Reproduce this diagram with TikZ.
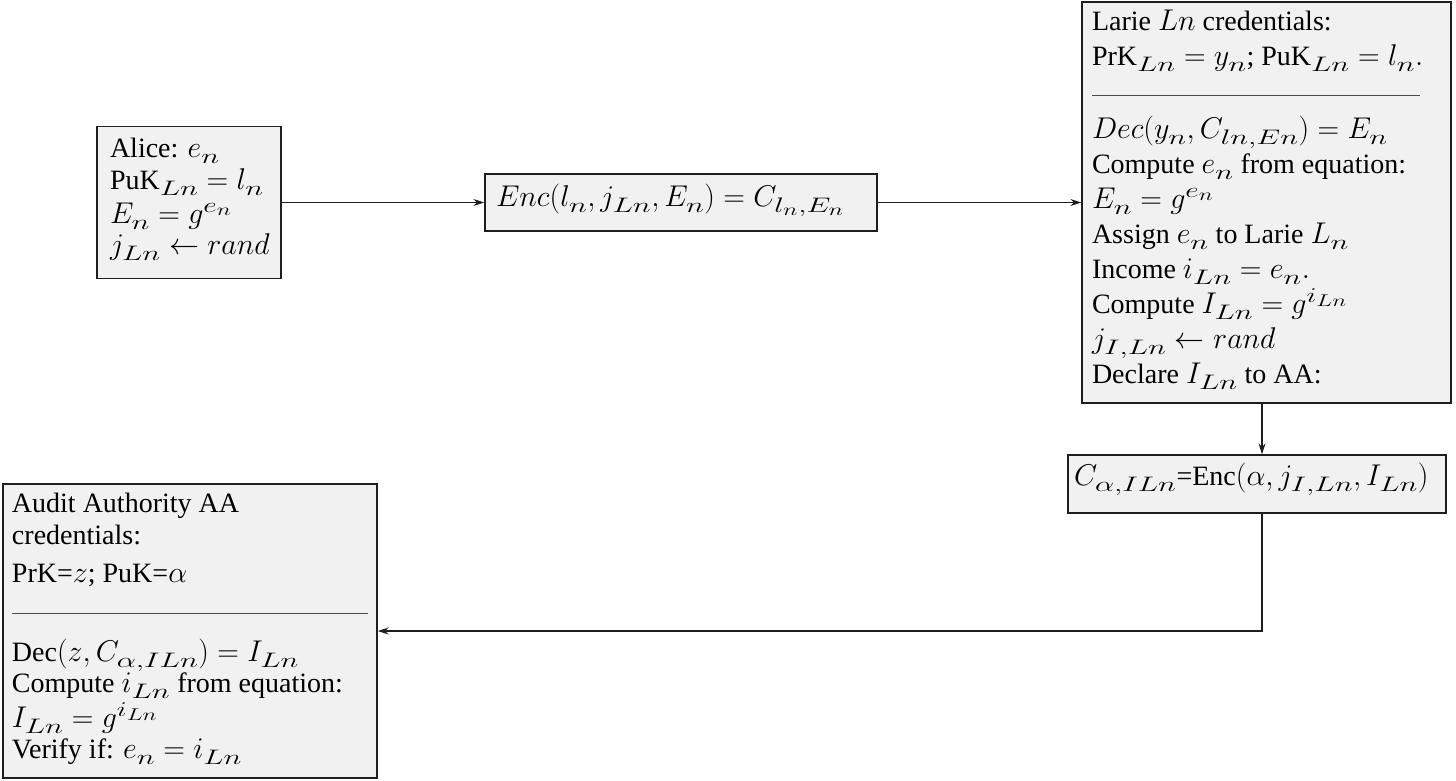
\RequirePackage{fix-cm}
\documentclass[tikz,border=0pt]{standalone}
\usepackage{fontspec}
\setmainfont{Liberation Serif}
\usetikzlibrary{arrows.meta,calc}
\DeclareMathSizes{28}{30}{21}{17}
\everymath{\fontdimen16\textfont2=6pt \fontdimen17\textfont2=6pt}
\newcommand\sbx[1]{_{\scalebox{1.45}[1]{$\scriptstyle #1$}}}
\newcommand\spx[1]{^{\scalebox{1.4}[1]{$\scriptstyle #1$}}}
\definecolor{boxfill}{RGB}{241,241,241}
\definecolor{boxline}{RGB}{30,30,30}
\begin{document}
\begin{tikzpicture}[x=1pt,y=-1pt,
  box/.style={draw=boxline, line width=1.4pt, fill=boxfill, rectangle, inner sep=0pt},
  txt/.style={anchor=base west, inner sep=0pt, outer sep=0pt, font=\fontsize{28}{34}\selectfont},
  arr/.style={-{Stealth[length=11pt,width=7pt]}, line width=1.3pt, draw=boxline},
  sep/.style={draw=black!70, line width=1pt}]
\useasboundingbox (0,0) rectangle (1456,780);
% boxes
\node[box, minimum width=184pt, minimum height=152pt] (alice) at (189,202.5) {};
\node[box, minimum width=392pt, minimum height=57pt] (enc) at (681,202.5) {};
\node[box, minimum width=369pt, minimum height=401pt] (larie) at (1266.5,202.5) {};
\node[box, minimum width=378pt, minimum height=58pt] (cbox) at (1257,484) {};
\node[box, minimum width=374pt, minimum height=294pt] (aa) at (190,631) {};
% Alice text
\node[txt] (a1) at (110,157) {Alice: $e\sbx{n}$};
\node[txt] (a2) at (110,189) {PuK$\sbx{Ln}=l\sbx{n}$};
\node[txt] (a3) at (110,223) {$E\sbx{n}=g\spx{e_n}$};
\node[txt] (a4) at (110,254) {$j\sbx{Ln}\leftarrow rand$};
% Enc text
\node[txt] (e1) at (496,206) {$Enc(l\sbx{n},j\sbx{Ln},E\sbx{n})=C\sbx{l_n,E_n}$};
% Larie text
\node[txt] (l1) at (1092,30) {Larie $Ln$ credentials:};
\node[txt] (l2) at (1092,65) {PrK$\sbx{Ln}=y\sbx{n}$; PuK$\sbx{Ln}=l\sbx{n}.$};
\draw[sep] (1092,95) -- (1420,95);
\node[txt] (l3) at (1092,138) {$Dec(y\sbx{n},C\sbx{ln,En})=E\sbx{n}$};
\node[txt] (l4) at (1092,173) {Compute $e\sbx{n}$ from equation:};
\node[txt] (l5) at (1092,208) {$E\sbx{n}=g\spx{e_n}$};
\node[txt] (l6) at (1092,243) {Assign $e\sbx{n}$ to Larie $L\sbx{n}$};
\node[txt] (l7) at (1092,278) {Income $i\sbx{Ln}=e\sbx{n}.$};
\node[txt] (l8) at (1092,313) {Compute $I\sbx{Ln}=g\spx{i_{Ln}}$};
\node[txt] (l9) at (1092,348) {$j\sbx{I,Ln}\leftarrow rand$};
\node[txt] (l10) at (1092,383) {Declare $I\sbx{Ln}$ to AA:};
% C box text
\node[txt] (c1) at (1074,485) {$C\sbx{\alpha,ILn}$=Enc$(\alpha,j\sbx{I,Ln},I\sbx{Ln})$};
% AA text
\node[txt] (aa1) at (12,512) {Audit Authority AA};
\node[txt] (aa2) at (12,544) {credentials:};
\node[txt] (aa3) at (12,582) {PrK=$z$; PuK=$\alpha$};
\draw[sep] (12,613) -- (368,613);
\node[txt] (aa4) at (12,661) {Dec$(z,C\sbx{\alpha,ILn})=I\sbx{Ln}$};
\node[txt] (aa5) at (12,692) {Compute $i\sbx{Ln}$ from equation:};
\node[txt] (aa6) at (12,727) {$I\sbx{Ln}=g\spx{i_{Ln}}$};
\node[txt] (aa7) at (12,758) {Verify if: $e\sbx{n}=i\sbx{Ln}$};
% connectors
\coordinate (kx) at (1262,0);
\draw[arr] (alice.east) -- (enc.west);
\draw[arr] (enc.east) -- (larie.west);
\draw[arr] (larie.south -| kx) -- (cbox.north -| kx);
\draw[arr] (cbox.south -| kx) |- (aa.east);
\end{tikzpicture}
\end{document}
